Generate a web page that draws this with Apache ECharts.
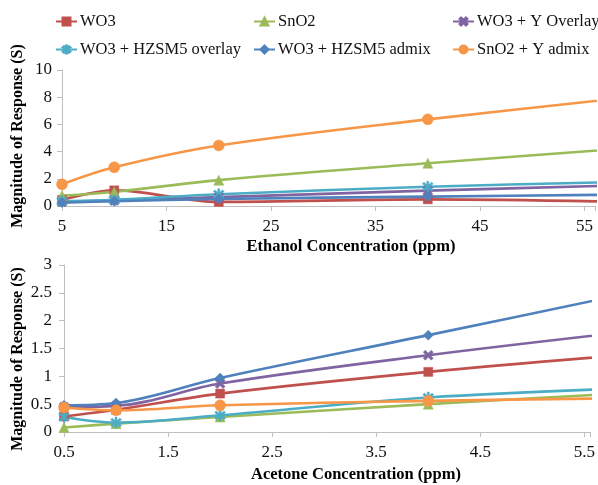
<!DOCTYPE html>
<html>
<head>
<meta charset="utf-8">
<script src="https://cdn.jsdelivr.net/npm/echarts@6/dist/echarts.min.js"></script>
<style>html,body{margin:0;padding:0;background:#fff}#c{width:598px;height:485px}</style>
</head>
<body>
<div id="c"></div>
<script>
// ---- data ----
const seriesNames = ['WO3', 'SnO2', 'WO3 + Y Overlay', 'WO3 + HZSM5 overlay', 'WO3 + HZSM5 admix', 'SnO2 + Y admix'];
const ethanolConc = [5, 10, 20, 40, 60];
const ethWO3      = [0.45, 1.15, 0.30, 0.49, 0.28];
const ethSnO2     = [0.76, 1.05, 1.90, 3.14, 4.30];
const ethWO3Y     = [0.30, 0.40, 0.65, 1.13, 1.55];
const ethWO3HZov  = [0.35, 0.45, 0.86, 1.42, 1.80];
const ethWO3HZad  = [0.25, 0.35, 0.52, 0.69, 0.85];
const ethSnO2Y    = [1.60, 2.85, 4.45, 6.37, 8.05];

const acetoneConc = [0.5, 1, 2, 4, 6];
const aceWO3      = [0.28, 0.40, 0.69, 1.08, 1.40];
const aceSnO2     = [0.08, 0.15, 0.27, 0.50, 0.71];
const aceWO3Y     = [0.45, 0.47, 0.87, 1.38, 1.82];
const aceWO3HZov  = [0.27, 0.17, 0.30, 0.62, 0.79];
const aceWO3HZad  = [0.48, 0.52, 0.97, 1.74, 2.52];
const aceSnO2Y    = [0.44, 0.39, 0.48, 0.56, 0.61];

const ethTicksY = {min: 0, max: 10, interval: 2};
const aceTicksY = {min: 0, max: 3, interval: 0.5};

// ---- styles ----
const colors = ['#C0504D', '#9BBB59', '#8064A2', '#4BACC6', '#4F81BD', '#F79646'];
const xPath = 'path://M2,0 L5,3 L8,0 L10,2 L7,5 L10,8 L8,10 L5,7 L2,10 L0,8 L3,5 L0,2 Z';
const starPath = 'path://M2,1 L5,4 L8,1 L9.4,2.4 L6.4,5 L9.4,7.6 L8,9 L5,6 L2,9 L0.6,7.6 L3.6,5 L0.6,2.4 Z M4.2,0 L5.8,0 L5.8,10 L4.2,10 Z';
const symbols = ['rect', 'triangle', xPath, starPath, 'diamond', 'circle'];
const symbolSizes = [9, 10, 10, 11, 10, 11];
const FONT = '"Liberation Serif", "Times New Roman", serif';

const ethData = [ethWO3, ethSnO2, ethWO3Y, ethWO3HZov, ethWO3HZad, ethSnO2Y];
const aceData = [aceWO3, aceSnO2, aceWO3Y, aceWO3HZov, aceWO3HZad, aceSnO2Y];

function pairs(xs, ys) { return xs.map((x, i) => [x, ys[i]]); }

const series = [];
seriesNames.forEach((name, i) => {
  const common = {
    name: name, type: 'line', smooth: 0.35,
    symbol: symbols[i], symbolSize: symbolSizes[i], showAllSymbol: true,
    lineStyle: {color: colors[i], width: 2.6},
    itemStyle: {color: colors[i], borderColor: colors[i], borderWidth: 0.5},
    emphasis: {disabled: true}, animation: false, clip: true
  };
  series.push(Object.assign({}, common, {xAxisIndex: 0, yAxisIndex: 0, data: pairs(ethanolConc, ethData[i])}));
  series.push(Object.assign({}, common, {xAxisIndex: 1, yAxisIndex: 1, data: pairs(acetoneConc, aceData[i])}));
});

const legendPos = [[55, 13], [253, 13], [452, 13], [55, 41], [253, 41], [452, 41]];
const legends = seriesNames.map((n, i) => ({
  data: [n], left: legendPos[i][0], top: legendPos[i][1], itemWidth: 21, itemHeight: 10, itemGap: 0,
  padding: 0, selectedMode: false,
  textStyle: {fontFamily: FONT, fontSize: 16.5, color: '#111', padding: [0, 0, 0, -2]}
}));

const axisLineStyle = {show: true, lineStyle: {color: '#BFBFBF', width: 1}};
const labelStyle = {fontFamily: FONT, fontSize: 17, color: '#111'};

function xLabelFmt(start, step) {
  return function (v) {
    const k = (v - start) / step;
    return Math.abs(k - Math.round(k)) < 1e-6 ? String(v) : '';
  };
}

const titleFont = 'bold 16px ' + FONT;

const option = {
  backgroundColor: '#fff',
  animation: false,
  legend: legends,
  grid: [
    {left: 62, top: 70, right: 0, height: 136, containLabel: false},
    {left: 64, top: 265, right: 0, height: 167, containLabel: false}
  ],
  xAxis: [
    {type: 'value', gridIndex: 0, min: 5, max: 56, interval: 10,
     axisLine: axisLineStyle, axisTick: {show: true, length: 5, lineStyle: {color: '#BFBFBF'}},
     splitLine: {show: false},
     axisLabel: Object.assign({margin: 12, formatter: xLabelFmt(5, 10)}, labelStyle)},
    {type: 'value', gridIndex: 1, min: 0.5, max: 5.557, interval: 1,
     axisLine: axisLineStyle, axisTick: {show: true, length: 5, lineStyle: {color: '#BFBFBF'}},
     splitLine: {show: false},
     axisLabel: Object.assign({margin: 12, formatter: xLabelFmt(0.5, 1)}, labelStyle)}
  ],
  yAxis: [
    Object.assign({type: 'value', gridIndex: 0,
     axisLine: axisLineStyle, axisTick: {show: true, length: 5, lineStyle: {color: '#BFBFBF'}},
     splitLine: {show: false},
     axisLabel: Object.assign({margin: 10}, labelStyle)}, ethTicksY),
    Object.assign({type: 'value', gridIndex: 1,
     axisLine: axisLineStyle, axisTick: {show: true, length: 5, lineStyle: {color: '#BFBFBF'}},
     splitLine: {show: false},
     axisLabel: Object.assign({margin: 12}, labelStyle)}, aceTicksY)
  ],
  graphic: [
    {type: 'text', x: 18, y: 136, rotation: Math.PI / 2, silent: true,
     style: {text: 'Magnitude of Response (S)', font: titleFont, fill: '#000', textAlign: 'center', textVerticalAlign: 'middle'}},
    {type: 'text', x: 18, y: 359, rotation: Math.PI / 2, silent: true,
     style: {text: 'Magnitude of Response (S)', font: titleFont, fill: '#000', textAlign: 'center', textVerticalAlign: 'middle'}},
    {type: 'text', x: 351, y: 247, silent: true,
     style: {text: 'Ethanol Concentration (ppm)', font: 'bold 16.5px ' + FONT, fill: '#000', textAlign: 'center', textVerticalAlign: 'middle'}},
    {type: 'text', x: 356, y: 475, silent: true,
     style: {text: 'Acetone Concentration (ppm)', font: 'bold 16.5px ' + FONT, fill: '#000', textAlign: 'center', textVerticalAlign: 'middle'}}
  ],
  series: series
};

const chart = echarts.init(document.getElementById('c'), null, {renderer: 'canvas'});
chart.setOption(option);
</script>
</body>
</html>
